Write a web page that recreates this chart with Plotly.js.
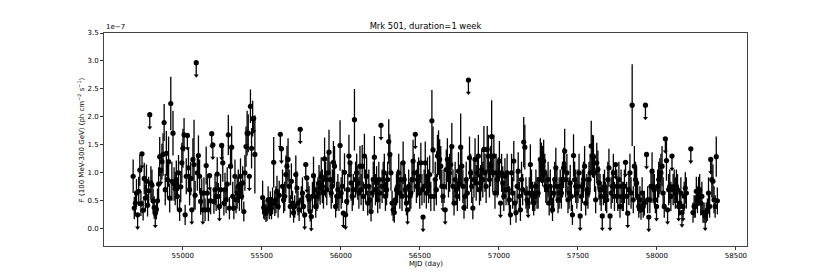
<!DOCTYPE html>
<html><head><meta charset="utf-8">
<script src="https://cdn.plot.ly/plotly-3.0.1.min.js"></script>
<style>html,body{margin:0;padding:0;background:#fff}#chart{width:830px;height:277px}</style>
</head><body><div id="chart"></div>
<script>
// Weekly light curve of Mrk 501, flux in units of 1e-7 ph cm^-2 s^-1
const firstBinCentreMJD = 54686.5;
const binWidthDays = 7;

const flux = [
0.94,0.37,0.46,0.64,0.25,0.67,1.05,0.45,1.34,0.33,
0.90,0.55,0.85,0.42,0.68,2.04,0.82,0.78,0.50,0.38,
0.28,0.35,0.50,0.80,1.29,1.05,1.20,1.33,1.90,0.70,
1.35,0.88,1.20,0.55,2.24,0.85,1.71,0.80,0.72,0.88,
0.58,1.00,0.34,0.75,1.18,1.44,1.68,0.25,0.94,1.67,
1.09,0.70,0.90,0.34,1.24,1.15,0.60,2.97,1.00,1.31,
0.94,0.49,0.64,0.34,0.64,0.34,1.13,0.64,0.34,0.95,
0.50,1.70,1.50,0.49,0.70,0.58,0.98,0.58,0.40,0.70,
1.49,1.18,0.46,0.70,0.52,0.80,1.68,0.37,1.12,1.46,
0.58,0.37,0.94,0.52,0.64,0.76,0.58,0.94,0.58,0.82,
0.31,1.00,1.47,1.71,1.71,0.94,2.19,1.44,1.97,1.97,
1.33,null,null,null,null,null,null,0.56,0.38,0.34,
0.28,0.34,0.52,0.37,0.45,0.37,0.50,1.19,0.45,0.52,
0.67,0.40,0.60,1.69,1.43,0.76,0.52,0.58,0.97,1.12,
1.24,0.76,0.40,0.85,0.46,0.29,0.40,0.97,0.73,0.46,
0.34,1.78,0.52,0.64,0.40,0.25,1.15,0.91,0.58,0.52,
0.31,0.22,0.58,0.95,0.70,0.40,0.58,0.64,0.82,0.73,
0.94,0.76,0.64,1.25,0.88,0.70,1.00,1.37,0.88,0.64,
0.76,1.19,1.12,0.40,0.58,0.70,0.58,1.49,0.64,0.76,
0.28,1.01,0.25,0.49,0.70,1.30,1.18,0.82,0.58,0.70,
1.95,0.88,1.00,0.82,0.64,1.12,0.70,1.12,0.58,1.30,
0.76,0.94,0.46,0.76,0.52,0.31,0.64,0.88,1.28,0.70,
0.82,0.52,0.88,0.64,1.85,0.76,0.88,1.00,0.58,0.70,
0.88,1.56,1.33,1.00,0.46,0.34,0.29,0.52,0.70,0.76,
1.00,0.64,0.88,0.58,1.18,0.88,0.70,0.46,0.34,0.76,
0.58,0.64,0.88,1.21,1.00,1.69,0.76,0.88,0.94,0.64,
1.18,0.70,0.21,0.76,1.18,0.64,0.94,0.76,0.97,0.58,
1.93,1.41,0.58,0.88,0.70,1.30,1.36,1.24,1.12,0.76,
0.58,0.76,0.34,1.06,1.24,0.88,1.00,1.15,1.47,0.76,
0.46,0.88,0.70,0.58,1.03,0.82,1.46,1.12,0.76,0.38,
0.58,0.88,0.64,2.66,1.27,1.00,0.76,0.37,0.88,1.24,
0.82,1.00,1.30,0.70,0.82,1.06,0.88,1.42,1.00,0.76,
1.42,1.30,0.88,1.12,1.65,1.00,1.30,0.64,1.00,0.88,
0.94,1.21,0.46,1.00,0.82,0.58,0.94,0.70,1.00,0.70,
0.52,0.25,1.00,0.64,1.21,0.46,0.29,0.76,1.03,0.58,
0.34,0.88,0.70,1.55,1.46,0.64,0.52,0.46,0.64,1.15,
0.76,0.58,0.46,0.58,0.76,0.64,0.64,0.88,1.24,1.18,
1.12,1.21,1.00,0.76,0.70,0.88,0.46,0.76,0.52,0.34,
0.64,0.88,1.09,0.76,0.52,0.64,0.76,0.64,0.88,1.09,
1.39,0.88,1.00,0.52,0.64,0.82,0.58,0.25,1.31,0.88,
0.76,0.64,0.76,1.00,0.23,0.58,0.76,0.88,1.12,0.46,
0.70,0.64,0.88,1.00,1.48,1.30,1.29,1.00,0.52,1.18,
1.06,0.82,0.70,0.58,0.23,0.70,0.76,0.58,0.52,0.88,
1.09,0.23,0.64,0.76,1.00,0.58,1.15,0.76,0.58,0.88,
0.40,0.76,0.58,0.58,0.76,1.19,0.58,0.28,0.70,1.00,
0.64,2.21,0.52,1.12,0.88,0.82,0.58,0.40,0.52,0.34,
0.64,0.40,0.46,2.21,1.33,0.52,0.21,0.52,0.76,1.03,
0.76,0.70,0.52,0.40,0.76,0.88,0.94,1.00,1.12,0.64,
0.40,1.61,1.22,0.34,0.70,0.76,0.58,1.30,0.70,0.76,
0.64,0.76,0.70,0.40,0.46,0.64,0.29,0.40,0.58,0.73,
0.64,null,null,null,1.43,null,0.29,0.40,0.40,0.67,
0.52,0.67,0.70,0.46,0.58,0.29,0.29,0.23,0.29,0.34,
0.64,0.40,1.24,0.88,0.85,0.52,0.40,1.29,0.50
];

const fluxErr = [
0.30,0.20,0.22,0.25,0,0.26,0.28,0.22,0,0.18,
0.28,0.24,0.30,0.20,0.25,0,0.30,0.28,0.22,0.20,
0,0.18,0.22,0.30,0.35,0,0.32,0.38,0.33,0.28,
0.40,0.32,0.45,0.26,0.48,0.35,0.40,0.30,0.30,0.34,
0.26,0.32,0.20,0.28,0.36,0.35,0.30,0.18,0.32,0,
0.36,0.28,0.30,0,0.38,0.80,0.26,0,0.32,0.36,
0.30,0.24,0.26,0,0.28,0.20,0.34,0.28,0.20,0,
0.24,0,0,0.22,0.28,0.26,0.30,0.24,0,0.28,
0,0.34,0.22,0.30,0.24,0.30,0.36,0.20,0.34,0.38,
0.26,0.20,0.30,0.24,0.28,0.30,0.26,0.32,0.24,0.30,
0.18,0.32,0.36,0.40,0.34,0,0.30,0.36,0.32,0,
0.70,0,0,0,0,0,0,0.30,0.20,0.18,
0.16,0.20,0.24,0.20,0.22,0.20,0.24,0.45,0.22,0.24,
0.28,0.20,0.26,0,0,0.30,0.24,0.26,0.34,0.36,
0.38,0.30,0.20,0.32,0.22,0.18,0.20,0.34,0.30,0.22,
0.20,0,0.24,0.28,0.20,0,0,0,0.26,0.24,
0.18,0,0.26,0.34,0.28,0.20,0.26,0.28,0.32,0.30,
0.34,0.30,0.28,0.38,0.32,0.28,0.34,0.40,0.32,0.28,
0.30,0.38,0.36,0.20,0.26,0.28,0.26,0.45,0.28,0.30,
0,0.34,0,0.22,0.28,0.38,0,0.32,0.26,0.28,
0.55,0.32,0.34,0.30,0.28,0.36,0.28,0.38,0.26,0.40,
0.30,0.34,0.22,0.30,0.24,0.18,0.28,0.32,0.38,0.28,
0.30,0.24,0.32,0.28,0,0.30,0.32,0.34,0.26,0.28,
0.32,0.40,0.36,0.32,0.22,0.20,0.18,0.24,0.28,0.30,
0.34,0.28,0.32,0.26,0.38,0.32,0.28,0.22,0,0.30,
0.26,0.28,0.32,0.38,0.34,0,0.30,0.32,0.34,0.28,
0.36,0.28,0,0.30,0.38,0.28,0.34,0.30,0.34,0.26,
0.55,0.42,0.26,0.32,0.28,0.38,0.40,0.36,0.36,0.30,
0,0.30,0,0.36,0.38,0.32,0.34,0.36,0.42,0.30,
0.22,0.32,0.28,0.26,0.34,0.32,0.60,0.36,0.30,0.20,
0.26,0.32,0.28,0,0.38,0.34,0.30,0.20,0.32,0.38,
0.32,0.34,0.38,0.28,0.32,0.36,0.32,0.42,0.34,0.30,
0.42,0.38,0.32,0.36,0.65,0.34,0.38,0.28,0.34,0.32,
0.34,0.36,0,0.34,0.30,0.26,0.32,0.28,0.34,0.28,
0.24,0.18,0.34,0.28,0.36,0.22,0.18,0.30,0.34,0.26,
0.20,0.32,0.28,0.45,0.40,0.28,0.24,0,0.28,0.36,
0.30,0.26,0.22,0.26,0.30,0.28,0.28,0.32,0.38,0.36,
0.36,0.38,0.34,0.30,0.28,0.32,0.22,0.30,0.24,0.20,
0.28,0.32,0.36,0.30,0.24,0.28,0.30,0.28,0.32,0.36,
0.40,0.32,0.34,0.24,0.28,0.32,0.26,0.18,0.38,0.32,
0.30,0.28,0.30,0.34,0,0.26,0.30,0.32,0.36,0.22,
0.28,0.28,0.32,0.34,0.45,0.38,0.38,0.34,0.24,0.36,
0.34,0.30,0.28,0.26,0,0.28,0.30,0.26,0.24,0.32,
0.34,0,0.28,0.30,0.34,0.26,0,0.30,0.26,0.32,
0.20,0.30,0.26,0.26,0.30,0,0.26,0,0.28,0.34,
0.28,0.73,0.24,0.36,0.32,0.30,0.26,0.20,0.24,0.18,
0.28,0.20,0.22,0,0,0.24,0,0.24,0.30,0.34,
0.30,0.28,0.24,0,0.30,0.32,0.32,0.34,0.36,0.28,
0.20,0,0.36,0,0.28,0.30,0.26,0,0.28,0.30,
0.28,0.30,0.28,0,0.22,0.28,0,0,0.26,0.28,
0.28,0,0,0,0,0,0.18,0.20,0.20,0.26,
0.24,0.26,0.28,0.22,0.26,0.18,0.18,0,0.18,0.20,
0.28,0.20,0,0.32,0.30,0.24,0.20,0.36,0.24
];

// bins (index) whose flux is an upper limit
const upperLimitBins = [4,8,15,20,25,49,53,57,63,69,71,72,78,80,105,109,133,134,151,155,156,157,161,190,192,196,224,248,255,262,280,282,303,332,357,404,424,431,436,445,447,463,464,466,473,481,483,487,493,496,497,504,517,522];
const ulArrowLength = 0.23;

const xTickVals = [55000,55500,56000,56500,57000,57500,58000,58500];
const yTickVals = [0,0.5,1.0,1.5,2.0,2.5,3.0,3.5];

const mjd = flux.map((_, i) => firstBinCentreMJD + binWidthDays * i);
const ulSet = new Set(upperLimitBins);
const det = {x: [], y: [], e: []};
const ul = {x: [], y: []};
flux.forEach((f, i) => {
  if (f === null) return;
  if (ulSet.has(i)) { ul.x.push(mjd[i]); ul.y.push(f); }
  else { det.x.push(mjd[i]); det.y.push(f); det.e.push(fluxErr[i]); }
});

const font = 'DejaVu Sans, sans-serif';
const traces = [
  {
    x: det.x, y: det.y, type: 'scatter', mode: 'markers',
    marker: {color: '#000', size: 5.2},
    error_y: {type: 'data', array: det.e, visible: true, color: '#000', thickness: 1.3, width: 0},
    hoverinfo: 'skip'
  },
  {
    x: ul.x, y: ul.y, type: 'scatter', mode: 'markers',
    marker: {color: '#000', size: 5.2},
    error_y: {type: 'data', symmetric: false, array: ul.y.map(() => 0), arrayminus: ul.y.map(() => ulArrowLength),
              visible: true, color: '#000', thickness: 1.3, width: 0},
    hoverinfo: 'skip'
  },
  {
    x: ul.x, y: ul.y.map(v => v - ulArrowLength), type: 'scatter', mode: 'markers',
    marker: {color: '#000', size: 4.4, symbol: 'triangle-down'},
    hoverinfo: 'skip'
  }
];

const layout = {
  width: 830, height: 277,
  margin: {l: 104, r: 83, t: 33, b: 31, pad: 0},
  paper_bgcolor: '#fff', plot_bgcolor: '#fff',
  showlegend: false,
  font: {family: font, size: 7, color: '#000'},
  title: {text: 'Mrk 501, duration=1 week', font: {family: font, size: 8.4, color: '#000'},
          x: 0.5, xref: 'paper', y: 1 - 26/277, yref: 'container', yanchor: 'middle'},
  xaxis: {
    range: [54502, 58570], tickvals: xTickVals, ticktext: xTickVals.map(String),
    ticks: 'outside', ticklen: 3, tickwidth: 1, tickcolor: '#333',
    showgrid: false, zeroline: false, showline: true, mirror: true, linecolor: '#444', linewidth: 1,
    tickfont: {family: font, size: 7, color: '#000'}
  },
  yaxis: {
    range: [-0.307, 3.5], tickvals: yTickVals, ticktext: yTickVals.map(v => v.toFixed(1)),
    ticks: 'outside', ticklen: 3, tickwidth: 1, tickcolor: '#333',
    showgrid: false, zeroline: false, showline: true, mirror: true, linecolor: '#444', linewidth: 1,
    tickfont: {family: font, size: 7, color: '#000'}
  },
  annotations: [
    {text: 'MJD (day)', xref: 'paper', yref: 'paper', x: 0.5, y: -(264 - 246) / 213, yanchor: 'middle',
     showarrow: false, font: {family: font, size: 7, color: '#000'}},
    {text: 'F (100 MeV-300 GeV) (ph cm<sup>−2</sup> s<sup>−1</sup>)', xref: 'paper', yref: 'paper',
     x: -(104 - 80.7) / 643, y: 0.5, xanchor: 'center', yanchor: 'middle', textangle: -90,
     showarrow: false, font: {family: font, size: 7, color: '#000'}},
    {text: '1e−7', xref: 'paper', yref: 'paper', x: 0, y: 1, xanchor: 'left', yanchor: 'bottom',
     showarrow: false, font: {family: font, size: 7, color: '#000'}}
  ]
};

Plotly.newPlot('chart', traces, layout, {staticPlot: true, displayModeBar: false});
</script>
</body></html>
